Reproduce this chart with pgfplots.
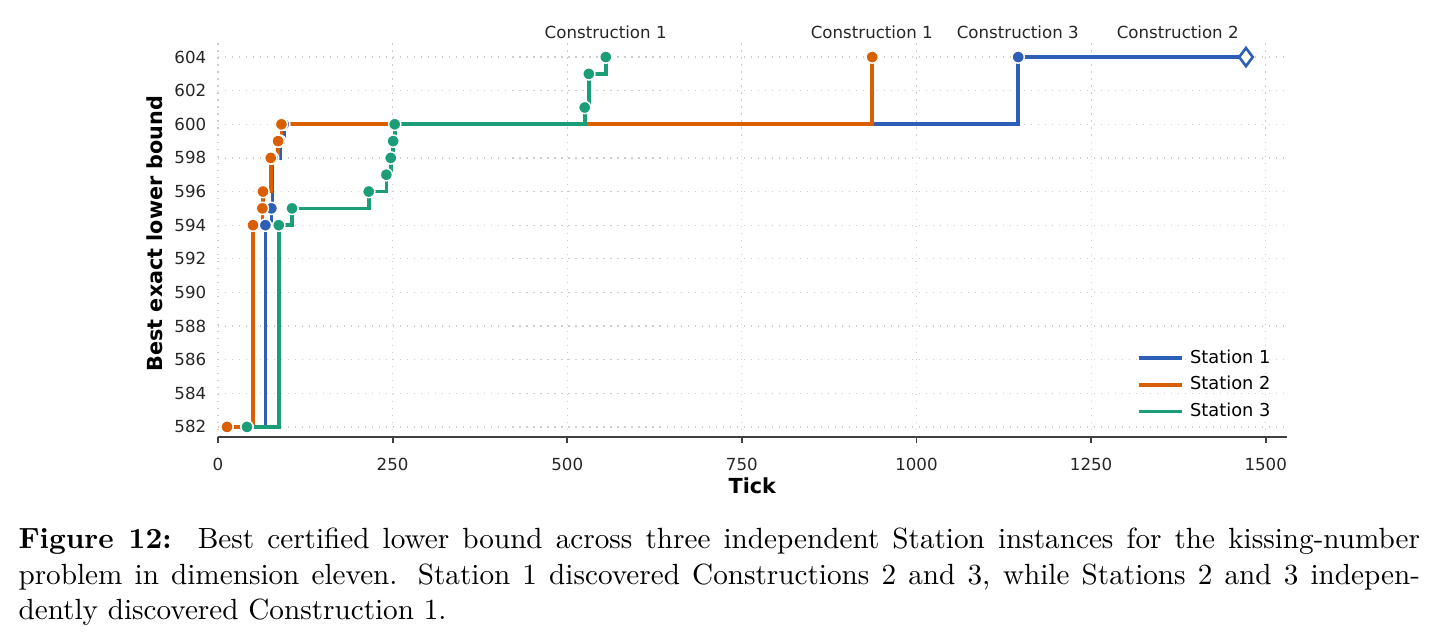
\documentclass[border=0pt]{standalone}
\usepackage{fontspec}
\newfontfamily\dv{DejaVu Sans}
\usepackage{pgfplots}
\pgfplotsset{compat=1.18}
\definecolor{stA}{HTML}{2C5FB5}
\definecolor{stB}{HTML}{D95F02}
\definecolor{stC}{HTML}{1B9E77}
\newcommand{\tickfont}{\dv\fontsize{5.7}{6.8}\selectfont}
\newcommand{\legfont}{\dv\fontsize{6.1}{7.3}\selectfont}
\newcommand{\labfont}{\dv\bfseries\fontsize{7.1}{8.5}\selectfont}

\begin{document}
\begin{tikzpicture}
\begin{axis}[
    scale only axis, width=366pt, height=135.3pt,
    xmin=0, xmax=1530, ymin=581.4, ymax=604.9,
    axis x line*=bottom, axis y line*=left,
    y axis line style={draw=none},
    x axis line style={black!75, line width=0.6pt, -},
    xtick={0,250,...,1500}, ytick={582,584,...,604},
    xtick align=outside, major tick length=2pt,
    xtick style={black!75, line width=0.6pt},
    ytick style={draw=none},
    grid=major, grid style={dotted, black!20, line width=0.4pt},
    /pgf/number format/assume math mode=true,
    /pgf/number format/1000 sep={},
    ticklabel style={font=\tickfont, text=black!85},
    yticklabel style={xshift=-0.5pt},
    xticklabel style={yshift=-1.6pt},
    xlabel={Tick}, ylabel={Best exact lower bound},
    xlabel style={at={(axis description cs:0.5,-0.144)}, anchor=base, font=\labfont},
    ylabel style={at={(axis description cs:-0.059,0.515)}, anchor=center, font=\labfont},
    legend style={draw=none, fill=none, at={(0.999,0.015)}, anchor=south east,
        font=\legfont, row sep=0pt,
        nodes={text height=4.6pt, text depth=1.2pt, inner ysep=1.65pt}},
    legend cell align=left,
    legend image code/.code={\draw[#1,mark=none] (0pt,0pt) -- (15pt,0pt);},
    clip=false,
    every axis plot/.append style={const plot, line width=1.25pt, mark=*, mark size=2.1pt},
]
% Station 1
\addplot[stA, mark options={fill=stA, draw=white, line width=0.5pt, solid}] coordinates {
    (41.5,582) (67.8,594) (76.4,595) (77.9,598) (88.4,599) (94.1,600) (1145.6,604) (1471.7,604)
};
% Station 2
\addplot[stB, mark options={fill=stB, draw=white, line width=0.5pt, solid}] coordinates {
    (12.9,582) (50.1,594) (63.5,595) (64.4,596) (75.5,598) (86,599) (90.8,600) (936.6,604)
};
% Station 3
\addplot[stC, mark options={fill=stC, draw=white, line width=0.5pt, solid}] coordinates {
    (41.5,582) (87,594) (106,595) (215.8,596) (241,597) (247.3,598) (250.7,599) (253,600)
    (525,601) (530.9,603) (555.2,604)
};
\addplot[only marks, forget plot, mark=diamond*, mark size=3.1pt,
    mark options={draw=stA, fill=white, line width=0.9pt}] coordinates {(1471.7,604)};
\legend{Station 1, Station 2, Station 3}

\node[anchor=base, font=\tickfont, text=black!85] at (axis cs:555,605.13) {Construction 1};
\node[anchor=base, font=\tickfont, text=black!85] at (axis cs:936,605.13) {Construction 1};
\node[anchor=base, font=\tickfont, text=black!85] at (axis cs:1145,605.13) {Construction 3};
\node[anchor=base, font=\tickfont, text=black!85] at (axis cs:1374,605.13) {Construction 2};
\end{axis}

\node[anchor=north west, inner sep=0pt, text width=480pt, align=justify, font=\normalsize]
    at (-68.5pt,-31.1pt)
    {\textbf{Figure 12:}\ \ Best certified lower bound across three independent Station instances for the kissing-number\linebreak
    problem in dimension eleven. Station 1 discovered Constructions 2 and 3, while Stations 2 and 3 indepen-\linebreak
    dently discovered Construction 1.};

\pgfresetboundingbox
\path[use as bounding box] (-74.66pt,-70.55pt) rectangle (418.5pt,149.66pt);
\end{tikzpicture}
\end{document}
